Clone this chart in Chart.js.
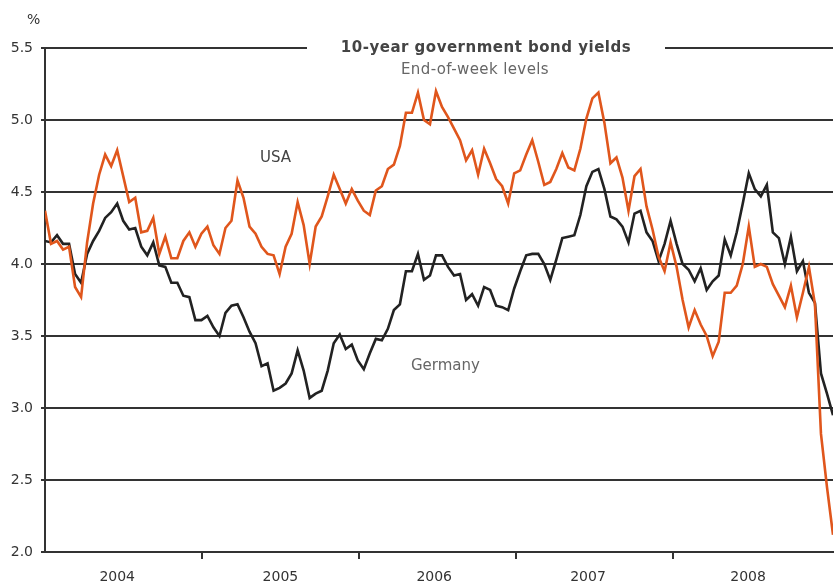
<!DOCTYPE html>
<html>
<head>
<meta charset="utf-8">
<script src="https://cdn.jsdelivr.net/npm/chart.js@4/dist/chart.umd.min.js"></script>
<style>
  html, body { margin: 0; padding: 0; background: #fff; }
  #wrap { position: relative; width: 836px; height: 585px; font-family: "DejaVu Sans", Verdana, sans-serif; }
  canvas { position: absolute; left: 0; top: 0; }
  .lbl { position: absolute; white-space: nowrap; line-height: 16px; }
  #title { left: 307px; width: 358px; top: 39px; text-align: center; background: #fff;
           font-weight: bold; font-size: 15px; letter-spacing: 0.5px; color: #444; }
  #subtitle { left: 355px; width: 240px; top: 61px; text-align: center; font-size: 15px; letter-spacing: 0.4px; color: #666; }
  #pct { left: 27px; top: 11px; font-size: 14px; color: #333; }
  #usa { left: 260px; top: 149px; font-size: 15px; color: #444; }
  #ger { left: 411px; top: 357px; font-size: 15px; color: #666; }
</style>
</head>
<body>
<div id="wrap">
  <canvas id="bondChart" width="836" height="585"></canvas>
  <div class="lbl" id="title">10-year government bond yields</div>
  <div class="lbl" id="subtitle">End-of-week levels</div>
  <div class="lbl" id="pct">%</div>
  <div class="lbl" id="usa">USA</div>
  <div class="lbl" id="ger">Germany</div>
</div>
<script>
// end-of-week levels, one value every 2 weeks from start of 2004
const years = ["2004", "2005", "2006", "2007", "2008"];
// where each year label sits, in years from the start of 2004
const yearLabelAt = [0.46, 1.50, 2.48, 3.46, 4.48];
const weeksPerYear = 52.18;
const stepWeeks = 2;

const usa = [
  4.37, 4.14, 4.16, 4.10, 4.12, 3.84, 3.77, 4.15, 4.42, 4.62,
  4.76, 4.68, 4.79, 4.61, 4.43, 4.46, 4.22, 4.23, 4.32, 4.07,
  4.19, 4.04, 4.04, 4.16, 4.22, 4.12, 4.21, 4.26, 4.13, 4.07,
  4.25, 4.30, 4.58, 4.46, 4.26, 4.21, 4.12, 4.07, 4.06, 3.93,
  4.12, 4.21, 4.43, 4.27, 4.00, 4.26, 4.33, 4.47, 4.62, 4.52,
  4.42, 4.52, 4.44, 4.37, 4.34, 4.51, 4.54, 4.66, 4.69, 4.82,
  5.05, 5.05, 5.19, 5.00, 4.97, 5.20, 5.09, 5.02, 4.94, 4.86,
  4.72, 4.79, 4.62, 4.80, 4.70, 4.59, 4.54, 4.42, 4.63, 4.65,
  4.76, 4.86, 4.71, 4.55, 4.57, 4.66, 4.77, 4.67, 4.65, 4.80,
  5.01, 5.15, 5.19, 4.98, 4.70, 4.74, 4.60, 4.37, 4.61, 4.66,
  4.40, 4.24, 4.05, 3.95, 4.15, 3.98, 3.75, 3.56, 3.68, 3.58,
  3.50, 3.36, 3.46, 3.80, 3.80, 3.85, 4.00, 4.26, 3.98, 4.00,
  3.98, 3.86, 3.78, 3.70, 3.85, 3.63, 3.80, 3.98, 3.72, 2.82,
  2.45, 2.12
];

const germany = [
  4.16, 4.15, 4.20, 4.14, 4.14, 3.93, 3.87, 4.07, 4.16, 4.23,
  4.32, 4.36, 4.42, 4.30, 4.24, 4.25, 4.12, 4.06, 4.15, 3.99,
  3.98, 3.87, 3.87, 3.78, 3.77, 3.61, 3.61, 3.64, 3.56, 3.50,
  3.66, 3.71, 3.72, 3.63, 3.53, 3.45, 3.29, 3.31, 3.12, 3.14,
  3.17, 3.24, 3.40, 3.26, 3.07, 3.10, 3.12, 3.26, 3.45, 3.51,
  3.41, 3.44, 3.33, 3.27, 3.38, 3.48, 3.47, 3.55, 3.68, 3.72,
  3.95, 3.95, 4.07, 3.89, 3.92, 4.06, 4.06, 3.98, 3.92, 3.93,
  3.75, 3.79, 3.71, 3.84, 3.82, 3.71, 3.70, 3.68, 3.83, 3.95,
  4.06, 4.07, 4.07, 4.00, 3.89, 4.03, 4.18, 4.19, 4.20, 4.34,
  4.54, 4.64, 4.66, 4.52, 4.33, 4.31, 4.26, 4.15, 4.35, 4.37,
  4.22, 4.16, 4.02, 4.14, 4.30, 4.14, 4.00, 3.96, 3.88, 3.97,
  3.82, 3.88, 3.92, 4.17, 4.06, 4.22, 4.42, 4.63, 4.52, 4.47,
  4.55, 4.22, 4.18, 4.00, 4.19, 3.95, 4.02, 3.80, 3.73, 3.24,
  3.10, 2.95
];

const ink = "#333333";

function toPoints(values) {
  return values.map((v, i) => ({ x: i * stepWeeks, y: v }));
}

// tick positions on the week axis: year boundaries get a mark, labels sit inside the years
const boundaryTicks = years.slice(1).map((_, i) => (i + 1) * weeksPerYear);
const labelTicks = yearLabelAt.map(f => f * weeksPerYear);

const ctx = document.getElementById("bondChart").getContext("2d");
new Chart(ctx, {
  type: "line",
  data: {
    datasets: [
      {
        label: "USA",
        data: toPoints(usa),
        borderColor: "#e0561c",
        borderWidth: 2.6,
        pointRadius: 0,
        tension: 0
      },
      {
        label: "Germany",
        data: toPoints(germany),
        borderColor: "#222222",
        borderWidth: 2.6,
        pointRadius: 0,
        tension: 0
      }
    ]
  },
  options: {
    responsive: false,
    animation: false,
    layout: { padding: { left: 10, right: 3, top: 48, bottom: 0 } },
    plugins: {
      legend: { display: false },
      tooltip: { enabled: false }
    },
    scales: {
      x: {
        type: "linear",
        min: 0,
        max: (usa.length - 1) * stepWeeks,
        afterBuildTicks: axis => {
          axis.ticks = boundaryTicks.concat(labelTicks)
            .sort((a, b) => a - b)
            .map(v => ({ value: v }));
        },
        afterFit: axis => { axis.height = 33; },
        border: { color: ink, width: 2 },
        grid: {
          drawOnChartArea: false,
          tickLength: 7,
          lineWidth: 2,
          tickColor: c => {
            const v = c.tick ? c.tick.value : -1;
            return boundaryTicks.some(b => Math.abs(b - v) < 0.01) ? ink : "rgba(0,0,0,0)";
          }
        },
        ticks: {
          autoSkip: false,
          maxRotation: 0,
          padding: 10,
          color: ink,
          font: { family: "DejaVu Sans", size: 14 },
          callback: (v) => {
            const i = labelTicks.findIndex(m => Math.abs(m - v) < 0.01);
            return i >= 0 ? years[i] : "";
          }
        }
      },
      y: {
        min: 2,
        max: 5.5,
        afterFit: axis => { axis.width = 35; },
        border: { color: ink, width: 2 },
        grid: {
          color: ink,
          lineWidth: 2,
          tickLength: 4
        },
        ticks: {
          stepSize: 0.5,
          padding: 8,
          color: ink,
          font: { family: "DejaVu Sans", size: 14 },
          callback: v => v.toFixed(1)
        }
      }
    }
  }
});
</script>
</body>
</html>
